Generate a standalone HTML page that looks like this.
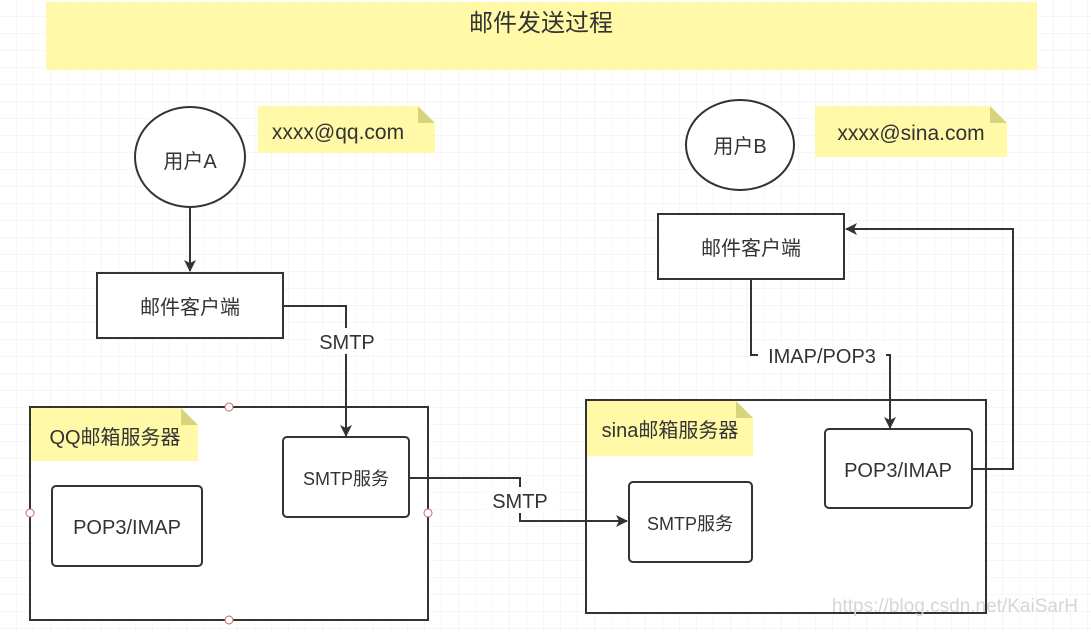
<!DOCTYPE html>
<html><head><meta charset="utf-8"><style>
html,body{margin:0;padding:0;background:#fff}
svg{display:block}
text{font-family:"Liberation Sans","Noto Sans CJK SC",sans-serif;fill:#333}
</style></head><body>
<svg width="1091" height="632" viewBox="0 0 1091 632" xmlns="http://www.w3.org/2000/svg">
<defs>
<pattern id="g" width="17" height="17" patternUnits="userSpaceOnUse"><path d="M17 0V17H0" fill="none" stroke="#ececec" stroke-width="1"/></pattern>
<marker id="a" markerWidth="12" markerHeight="12" refX="11" refY="6" orient="auto" markerUnits="userSpaceOnUse"><path d="M0,0 L12,6 L0,12 L3,6 Z" fill="#333"/></marker>
</defs>
<rect width="1091" height="632" fill="url(#g)"/>
<rect x="46" y="2" width="991" height="68" fill="#fff9a8"/>
<text x="541" y="31" font-size="24" text-anchor="middle">邮件发送过程</text>

<g stroke="#333" stroke-width="2" fill="#fff">
<ellipse cx="190" cy="157" rx="55" ry="50"/>
<ellipse cx="740" cy="145" rx="54" ry="45"/>
<rect x="97" y="273" width="186" height="65"/>
<rect x="658" y="214" width="186" height="65"/>
<rect x="30" y="407" width="398" height="213"/>
<rect x="586" y="400" width="400" height="213"/>
<rect x="283" y="437" width="126" height="80" rx="4"/>
<rect x="52" y="486" width="150" height="80" rx="4"/>
<rect x="629" y="482" width="123" height="80" rx="4"/>
<rect x="825" y="429" width="147" height="79" rx="4"/>
</g>

<g fill="#fff9a8">
<path d="M258 106H418L435 123V153H258Z"/>
<path d="M815 106H990L1007 123V157H815Z"/>
<path d="M31 408H181L198 425V461H31Z"/>
<path d="M587 401H736L753 418V456H587Z"/>
</g>
<g fill="#d8d47e">
<path d="M418 106L435 123H418Z"/><path d="M990 106L1007 123H990Z"/>
<path d="M181 408L198 425H181Z"/><path d="M736 401L753 418H736Z"/>
</g>

<g stroke="#333" stroke-width="2" fill="none">
<path d="M190 207V271" marker-end="url(#a)"/>
<path d="M283 306H346V436" marker-end="url(#a)"/>
<path d="M409 478H520V521H627" marker-end="url(#a)"/>
<path d="M751 279V355H890V428" marker-end="url(#a)"/>
<path d="M972 469H1013V229H846" marker-end="url(#a)"/>
</g>
<g fill="#fff" stroke="#c66" stroke-width="1">
<circle cx="229" cy="407" r="4"/><circle cx="30" cy="513" r="4"/><circle cx="428" cy="513" r="4"/><circle cx="229" cy="620" r="4"/>
</g>
<rect x="312" y="328" width="70" height="26" fill="#fff"/>
<rect x="486" y="487" width="70" height="26" fill="#fff"/>
<rect x="758" y="342" width="128" height="26" fill="#fff"/>

<g font-size="20" text-anchor="middle">
<text x="190" y="168">用户A</text>
<text x="740" y="153">用户B</text>
<text x="338" y="139" font-size="21">xxxx@qq.com</text>
<text x="911" y="140" font-size="21">xxxx@sina.com</text>
<text x="190" y="314">邮件客户端</text>
<text x="751" y="255">邮件客户端</text>
<text x="347" y="349" font-size="20">SMTP</text>
<text x="520" y="508" font-size="20">SMTP</text>
<text x="822" y="363" font-size="20">IMAP/POP3</text>
<text x="115" y="444">QQ邮箱服务器</text>
<text x="670" y="437">sina邮箱服务器</text>
<text x="346" y="485" font-size="18">SMTP服务</text>
<text x="690" y="530" font-size="18">SMTP服务</text>
<text x="127" y="534">POP3/IMAP</text>
<text x="898" y="477">POP3/IMAP</text>
</g>
<text x="1078" y="612" font-size="19" text-anchor="end" style="fill:#d6d6d6">https://blog.csdn.net/KaiSarH</text>
</svg>
</body></html>
